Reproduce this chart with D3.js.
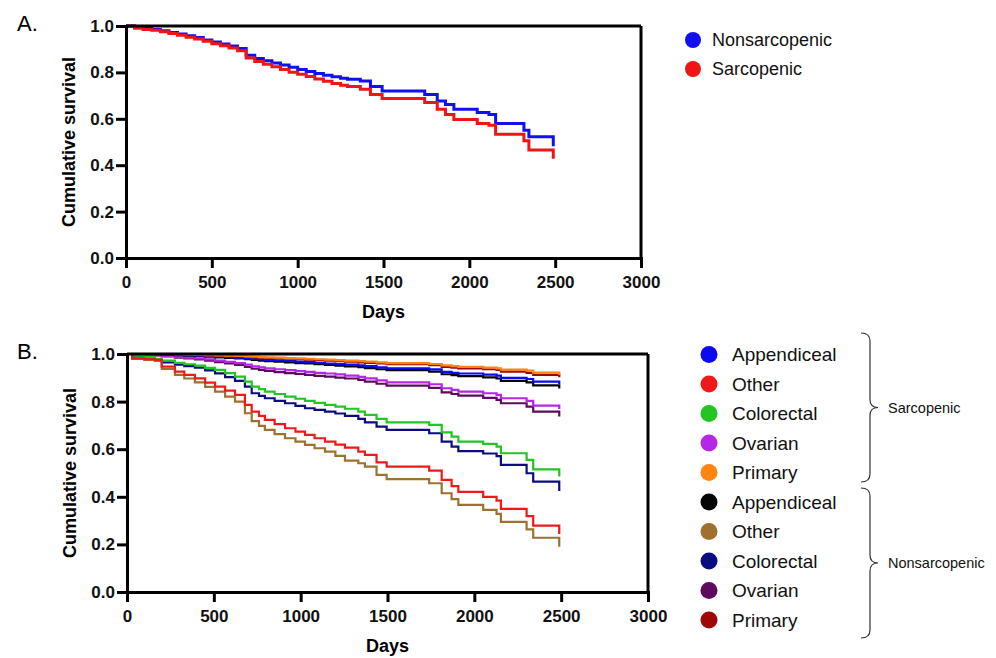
<!DOCTYPE html>
<html>
<head>
<meta charset="utf-8">
<script src="https://cdn.jsdelivr.net/npm/d3@7"></script>
<style>
  body { margin: 0; background: #fff; }
  svg { font-family: "Liberation Sans", Arial, sans-serif; }
</style>
</head>
<body>
<div id="chart"></div>
<script>
// ---- data ----
const xTicks = [0, 500, 1000, 1500, 2000, 2500, 3000];
const yTicks = [0.0, 0.2, 0.4, 0.6, 0.8, 1.0];

// Panel A: survival by sarcopenia status
const daysA = [0, 50, 100, 150, 200, 250, 300, 350, 400, 450, 500, 550, 600, 650, 700, 750, 800, 850, 900, 950,
  1000, 1050, 1100, 1150, 1200, 1250, 1290, 1365, 1424, 1492, 1740, 1813, 1861, 1910, 2046, 2114, 2153, 2318, 2347, 2489];
const nonsarcA = [1.0, 0.995, 0.99, 0.985, 0.979, 0.972, 0.965, 0.958, 0.95, 0.94, 0.931, 0.922, 0.914, 0.903, 0.874, 0.86, 0.85, 0.841, 0.832, 0.822,
  0.813, 0.804, 0.795, 0.788, 0.781, 0.775, 0.77, 0.763, 0.739, 0.72, 0.705, 0.677, 0.662, 0.641, 0.627, 0.619, 0.58, 0.551, 0.523, 0.482];
const sarcA = [1.0, 0.99, 0.985, 0.982, 0.975, 0.968, 0.96, 0.952, 0.944, 0.934, 0.924, 0.915, 0.905, 0.893, 0.862, 0.847, 0.835, 0.824, 0.813, 0.801,
  0.792, 0.782, 0.772, 0.762, 0.752, 0.745, 0.739, 0.727, 0.705, 0.687, 0.67, 0.641, 0.619, 0.597, 0.58, 0.572, 0.533, 0.505, 0.465, 0.428];

// Panel B: survival by status and primary site
const daysB = [0, 30, 100, 160, 200, 276, 330, 391, 450, 507, 565, 622, 679, 718, 760, 794, 850, 910, 970, 1025,
  1080, 1140, 1200, 1255, 1332, 1370, 1437, 1495, 1740, 1812, 1869, 1908, 2051, 2128, 2153, 2301, 2339, 2489];
const sarcAppendiceal = [1, 1, 1, 0.999, 0.998, 0.996, 0.995, 0.993, 0.991, 0.989, 0.987, 0.985, 0.982, 0.979, 0.977, 0.975, 0.973, 0.971, 0.968, 0.966,
  0.963, 0.96, 0.958, 0.955, 0.952, 0.949, 0.944, 0.94, 0.935, 0.925, 0.921, 0.918, 0.913, 0.909, 0.9, 0.895, 0.884, 0.873];
const sarcOther = [1, 0.982, 0.978, 0.975, 0.947, 0.926, 0.912, 0.898, 0.88, 0.863, 0.846, 0.828, 0.786, 0.758, 0.74, 0.723, 0.705, 0.688, 0.674, 0.66,
  0.646, 0.632, 0.619, 0.607, 0.59, 0.576, 0.545, 0.527, 0.51, 0.471, 0.445, 0.421, 0.4, 0.384, 0.349, 0.319, 0.279, 0.244];
const sarcColorectal = [1, 0.993, 0.988, 0.98, 0.972, 0.963, 0.957, 0.951, 0.942, 0.933, 0.92, 0.905, 0.884, 0.863, 0.852, 0.842, 0.832, 0.821, 0.812, 0.803,
  0.795, 0.786, 0.779, 0.77, 0.758, 0.744, 0.727, 0.713, 0.702, 0.671, 0.653, 0.632, 0.622, 0.611, 0.583, 0.555, 0.515, 0.485];
const sarcOvarian = [1, 1, 0.998, 0.995, 0.992, 0.988, 0.985, 0.981, 0.977, 0.972, 0.967, 0.962, 0.955, 0.948, 0.944, 0.94, 0.936, 0.932, 0.928, 0.925,
  0.921, 0.918, 0.914, 0.909, 0.904, 0.898, 0.889, 0.881, 0.873, 0.856, 0.849, 0.842, 0.835, 0.828, 0.814, 0.803, 0.783, 0.769];
const sarcPrimary = [1, 1, 1, 1, 0.999, 0.998, 0.997, 0.996, 0.995, 0.994, 0.993, 0.992, 0.99, 0.989, 0.987, 0.986, 0.985, 0.983, 0.982, 0.98,
  0.978, 0.976, 0.974, 0.972, 0.97, 0.968, 0.965, 0.962, 0.958, 0.952, 0.949, 0.946, 0.943, 0.94, 0.934, 0.93, 0.922, 0.912];
const nonsarcAppendiceal = [1, 1, 1, 0.999, 0.997, 0.995, 0.993, 0.991, 0.989, 0.986, 0.984, 0.981, 0.978, 0.975, 0.972, 0.97, 0.968, 0.965, 0.962, 0.96,
  0.957, 0.954, 0.951, 0.948, 0.945, 0.941, 0.936, 0.932, 0.926, 0.915, 0.911, 0.907, 0.902, 0.897, 0.887, 0.881, 0.868, 0.855];
const nonsarcOther = [1, 0.979, 0.975, 0.971, 0.937, 0.912, 0.897, 0.881, 0.862, 0.842, 0.821, 0.8, 0.751, 0.718, 0.698, 0.681, 0.663, 0.646, 0.632, 0.618,
  0.604, 0.59, 0.572, 0.552, 0.541, 0.527, 0.492, 0.474, 0.457, 0.415, 0.39, 0.366, 0.345, 0.328, 0.295, 0.263, 0.228, 0.19];
const nonsarcColorectal = [1, 0.99, 0.985, 0.975, 0.965, 0.955, 0.949, 0.943, 0.931, 0.919, 0.903, 0.887, 0.863, 0.835, 0.824, 0.814, 0.803, 0.793, 0.782, 0.772,
  0.765, 0.758, 0.75, 0.74, 0.727, 0.713, 0.695, 0.681, 0.667, 0.632, 0.611, 0.592, 0.582, 0.571, 0.534, 0.499, 0.464, 0.424];
const nonsarcOvarian = [1, 1, 0.997, 0.994, 0.99, 0.985, 0.981, 0.977, 0.972, 0.966, 0.96, 0.954, 0.946, 0.938, 0.933, 0.929, 0.924, 0.92, 0.916, 0.912,
  0.908, 0.905, 0.901, 0.897, 0.891, 0.884, 0.875, 0.867, 0.858, 0.839, 0.832, 0.825, 0.816, 0.807, 0.793, 0.779, 0.758, 0.737];
const nonsarcPrimary = [1, 1, 1, 1, 0.999, 0.998, 0.997, 0.995, 0.994, 0.993, 0.991, 0.99, 0.988, 0.986, 0.985, 0.983, 0.982, 0.98, 0.978, 0.976,
  0.974, 0.972, 0.97, 0.968, 0.965, 0.963, 0.96, 0.957, 0.953, 0.946, 0.943, 0.94, 0.936, 0.933, 0.926, 0.921, 0.912, 0.902];

const seriesA = [
  {name: "Nonsarcopenic", color: "#1010f0", values: nonsarcA},
  {name: "Sarcopenic", color: "#f01414", values: sarcA}
];
const sitesB = ["Appendiceal", "Other", "Colorectal", "Ovarian", "Primary"];
const seriesB = [
  {name: "Appendiceal", color: "#0a0af5", values: sarcAppendiceal},
  {name: "Other", color: "#f01818", values: sarcOther},
  {name: "Colorectal", color: "#22c522", values: sarcColorectal},
  {name: "Ovarian", color: "#b526e6", values: sarcOvarian},
  {name: "Primary", color: "#ff8410", values: sarcPrimary},
  {name: "Appendiceal", color: "#050505", values: nonsarcAppendiceal},
  {name: "Other", color: "#a0702e", values: nonsarcOther},
  {name: "Colorectal", color: "#0c0c82", values: nonsarcColorectal},
  {name: "Ovarian", color: "#5e0a5e", values: nonsarcOvarian},
  {name: "Primary", color: "#a00808", values: nonsarcPrimary}
];
// draw order for panel B (nonsarcopenic first so sarcopenic lines sit on top)
const drawOrderB = [8, 3, 5, 0, 9, 4, 7, 2, 6, 1];

const svg = d3.select("#chart").append("svg")
  .attr("width", 996).attr("height", 658);
svg.append("rect").attr("width", 996).attr("height", 658).attr("fill", "#fff");

function drawPanel(cfg) {
  const x = d3.scaleLinear().domain([0, 3000]).range([cfg.left, cfg.right]);
  const y = d3.scaleLinear().domain([0, 1]).range([cfg.bottom, cfg.top]);

  const g = svg.append("g");

  // lines
  const line = d3.line()
    .x(d => x(d[0]))
    .y(d => y(d[1]))
    .curve(d3.curveStepAfter);
  cfg.order.forEach(i => {
    const s = cfg.series[i];
    g.append("path")
      .datum(cfg.days.map((d, j) => [d, s.values[j]]))
      .attr("fill", "none")
      .attr("stroke", s.color)
      .attr("stroke-width", cfg.lineWidth)
      .attr("d", line);
  });

  // frame: top and right borders
  g.append("line").attr("x1", x(0)).attr("x2", x(3000)).attr("y1", y(1)).attr("y2", y(1))
    .attr("stroke", "#000").attr("stroke-width", 3);
  g.append("line").attr("x1", x(3000)).attr("x2", x(3000)).attr("y1", y(1)).attr("y2", y(0))
    .attr("stroke", "#000").attr("stroke-width", 3);

  // axes
  const xAxis = g.append("g")
    .attr("transform", `translate(0,${cfg.bottom})`)
    .call(d3.axisBottom(x).tickValues(xTicks).tickSizeOuter(0).tickSize(10).tickPadding(8).tickFormat(d3.format("d")));
  const yAxis = g.append("g")
    .attr("transform", `translate(${cfg.left},0)`)
    .call(d3.axisLeft(y).tickValues(yTicks).tickSizeOuter(0).tickSize(10).tickPadding(2).tickFormat(d3.format(".1f")));
  [xAxis, yAxis].forEach(a => {
    a.select(".domain").attr("stroke", "#000").attr("stroke-width", 3);
    a.selectAll(".tick line").attr("stroke", "#000").attr("stroke-width", 3);
    a.selectAll(".tick text")
      .attr("fill", "#111")
      .style("font-size", "17px")
      .style("font-weight", "bold")
      .style("font-family", "'Liberation Sans', Arial, sans-serif");
  });

  // axis titles
  g.append("text")
    .attr("x", (cfg.left + cfg.right) / 2)
    .attr("y", cfg.bottom + 60)
    .attr("text-anchor", "middle")
    .style("font-size", "18px").style("font-weight", "bold")
    .text("Days");
  g.append("text")
    .attr("transform", `translate(${cfg.left - 51},${(cfg.top + cfg.bottom) / 2}) rotate(-90)`)
    .attr("text-anchor", "middle")
    .style("font-size", "18px").style("font-weight", "bold")
    .text("Cumulative survival");

  // panel letter
  g.append("text")
    .attr("x", 17).attr("y", cfg.top + 5)
    .style("font-size", "22px")
    .text(cfg.letter);
}

drawPanel({letter: "A.", left: 126, right: 641, top: 26, bottom: 258, lineWidth: 3,
  days: daysA, series: seriesA, order: [0, 1]});
drawPanel({letter: "B.", left: 127, right: 648, top: 354, bottom: 592, lineWidth: 2.2,
  days: daysB, series: seriesB, order: drawOrderB});

// legend A
const legA = svg.append("g");
seriesA.forEach((s, i) => {
  const cy = 40 + i * 29;
  legA.append("circle").attr("cx", 693).attr("cy", cy).attr("r", 8).attr("fill", s.color);
  legA.append("text").attr("x", 712).attr("y", cy).attr("dy", "0.35em")
    .style("font-size", "18px").attr("fill", "#111").text(s.name);
});

// legend B
const legB = svg.append("g");
seriesB.forEach((s, i) => {
  const cy = 354.5 + i * 29.5;
  legB.append("circle").attr("cx", 709).attr("cy", cy).attr("r", 8.5).attr("fill", s.color);
  legB.append("text").attr("x", 732).attr("y", cy).attr("dy", "0.35em")
    .style("font-size", "19px").attr("fill", "#111").text(s.name);
});

// braces with group labels
function brace(top, bottom, label) {
  const mid = (top + bottom) / 2, bx = 870;
  const p = `M${bx - 9},${top} Q${bx},${top} ${bx},${top + 8} L${bx},${mid - 8} Q${bx},${mid} ${bx + 8},${mid}` +
    ` Q${bx},${mid} ${bx},${mid + 8} L${bx},${bottom - 8} Q${bx},${bottom} ${bx - 9},${bottom}`;
  svg.append("path").attr("d", p).attr("fill", "none").attr("stroke", "#333").attr("stroke-width", 1.2);
  svg.append("text").attr("x", 888).attr("y", mid).attr("dy", "0.35em")
    .style("font-size", "14.5px").attr("fill", "#111").text(label);
}
brace(333, 482, "Sarcopenic");
brace(488, 638, "Nonsarcopenic");
</script>
</body>
</html>
